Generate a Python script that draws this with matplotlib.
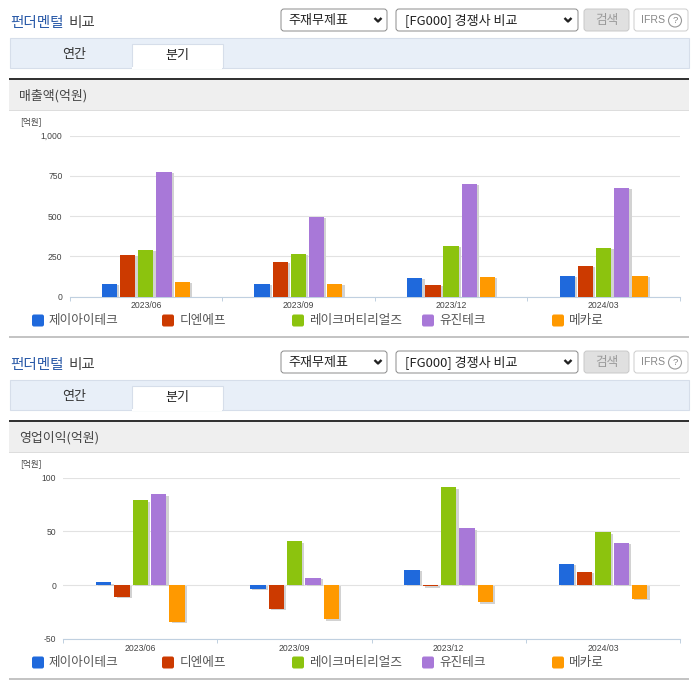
import matplotlib
matplotlib.use("Agg")
import matplotlib.pyplot as plt
import matplotlib.patheffects as pe
from matplotlib.patches import Rectangle, FancyBboxPatch, Circle

plt.rcParams["font.family"] = ["Noto Sans CJK KR", "DejaVu Sans"]

# DATA
periods = ["2023/06", "2023/09", "2023/12", "2024/03"]
companies = ["제이아이테크", "디엔에프", "레이크머티리얼즈", "유진테크", "메카로"]
colors = ["#1f69dc", "#cc3a00", "#8cc30e", "#a878d8", "#ff9900"]

revenue = [
    [80, 78, 115, 127],
    [258, 216, 71, 189],
    [289, 264, 314, 301],
    [775, 496, 699, 674],
    [90, 78, 121, 127],
]
op_profit = [
    [2.5, -3.4, 14.3, 20],
    [-11, -22, -1.2, 12.4],
    [79, 40.6, 91, 49],
    [84.5, 7, 52.7, 39.5],
    [-34, -32, -16, -12.7],
]
revenue_ticks = [0, 250, 500, 750, 1000]
revenue_labels = ["0", "250", "500", "750", "1,000"]
profit_ticks = [-50, 0, 50, 100]
profit_labels = ["-50", "0", "50", "100"]

# CONFIG
W, H = 696, 684
TICK_FONT = ["Liberation Sans", "DejaVu Sans"]
GRID = "#e2e2e2"
AXIS = "#c0d0e0"
TEXT = "#444444"

fig = plt.figure(figsize=(W / 100, H / 100), dpi=100, facecolor="white")

# page furniture is drawn in pixel coordinates
bg = fig.add_axes([0, 0, 1, 1])
bg.set_xlim(0, W)
bg.set_ylim(H, 0)
bg.axis("off")


def box(x0, y0, x1, y1, face, edge, lw=0.8, radius=0):
    if radius:
        patch = FancyBboxPatch((x0 + radius, y0 + radius), x1 - x0 - 2 * radius, y1 - y0 - 2 * radius,
                               boxstyle=f"round,pad={radius},rounding_size={radius}",
                               facecolor=face, edgecolor=edge, linewidth=lw)
    else:
        patch = Rectangle((x0, y0), x1 - x0, y1 - y0, facecolor=face, edgecolor=edge, linewidth=lw)
    bg.add_patch(patch)


def label(x, y, s, size=9.1, color=TEXT, ha="left", **kw):
    bg.text(x, y, s, fontsize=size, color=color, ha=ha, va="center", **kw)


def chevron(x, y):
    bg.plot([x - 3.5, x, x + 3.5], [y - 2, y + 1.5, y - 2], color="#222222", lw=1.7, solid_capstyle="butt")


def draw_header(dy, section):
    bg.text(10, 23.5 + dy, "펀더멘털", fontsize=10.5, color="#2a5aa8", fontweight="medium", ha="left", va="center")
    bg.text(68, 23.5 + dy, "비교", fontsize=10.5, color="#444444", fontweight="medium", ha="left", va="center")

    box(281, 9 + dy, 387, 31 + dy, "white", "#8a8a8a", 0.7, 3)
    label(288, 20.5 + dy, "주재무제표", 9.4, "#222222")
    chevron(378, 20 + dy)
    box(396, 9 + dy, 578, 31 + dy, "white", "#8a8a8a", 0.7, 3)
    label(405, 20.5 + dy, "[FG000] 경쟁사 비교", 9.4, "#222222")
    chevron(568, 20 + dy)
    box(584, 9 + dy, 629, 31 + dy, "#e0e0e0", "#c8c8c8", 0.7, 3)
    label(606.5, 20.5 + dy, "검색", 9.1, "#999999", ha="center")
    box(634, 9 + dy, 688, 31 + dy, "white", "#cccccc", 0.7, 3)
    label(641, 20 + dy, "IFRS", 7.6, "#888888", family=TICK_FONT)
    bg.add_patch(Circle((675, 20.5 + dy), 6.5, facecolor="white", edgecolor="#999999", linewidth=0.8))
    label(675, 20.5 + dy, "?", 6.8, "#888888", ha="center", family=TICK_FONT)

    box(9.5, 38 + dy, 689, 67.5 + dy, "#e8eff8", "#d6deea")
    box(131.5, 43.5 + dy, 222.5, 68 + dy, "white", "#d6deea")
    bg.add_patch(Rectangle((132, 66.5 + dy), 90, 2.5, facecolor="white", edgecolor="none"))
    label(74, 54.5 + dy, "연간", 9.4, "#333333", ha="center")
    label(177, 55 + dy, "분기", 9.4, "#222222", ha="center")

    bg.add_patch(Rectangle((9, 78 + dy), 680, 2.2, facecolor="#333333", edgecolor="none"))
    bg.add_patch(Rectangle((9, 80 + dy), 680, 30, facecolor="#efefef", edgecolor="none"))
    bg.add_patch(Rectangle((9, 110 + dy), 680, 1, facecolor="#dddddd", edgecolor="none"))
    label(19, 95.5 + dy, section, 9.3, "#444444")
    label(20, 122 + dy, "[억원]", 6.2, "#444444")

    for i, (name, color) in enumerate(zip(companies, colors)):
        x = 32 + 130 * i
        box(x, 314.5 + dy, x + 12, 326.5 + dy, color, color, 0, 2)
        label(x + 17 + (1 if i == 1 else 0), 320.5 + dy, name, 9.1, "#555555")
    bg.add_patch(Rectangle((9, 335.5 + dy), 680, 2.2, facecolor="#c4c4c4", edgecolor="none"))


def draw_chart(left, top, right, bottom, series, ticks, tick_labels, pad):
    ax = fig.add_axes([left / W, 1 - bottom / H, (right - left) / W, (bottom - top) / H])
    ax.patch.set_alpha(0)
    shadow = [pe.SimplePatchShadow(offset=(1.6, -1.0), shadow_rgbFace="#d2d2d2", alpha=1), pe.Normal()]
    for i, values in enumerate(series):
        xs = [c + (i - 2) * 0.119 for c in range(len(periods))]
        bars = ax.bar(xs, values, width=0.1, color=colors[i], zorder=3)
        for b in bars:
            b.set_path_effects(shadow)

    ax.set_xlim(-0.5, len(periods) - 0.5)
    ax.set_ylim(ticks[0], ticks[-1])
    ax.set_yticks(ticks, tick_labels)
    ax.set_xticks(range(len(periods)), periods)
    ax.set_xticks([c - 0.5 for c in range(len(periods) + 1)], minor=True)
    ax.set_axisbelow(True)
    ax.grid(axis="y", color=GRID, linewidth=0.8)
    for side in ["top", "left", "right"]:
        ax.spines[side].set_visible(False)
    ax.spines["bottom"].set_color(AXIS)
    ax.spines["bottom"].set_linewidth(0.8)
    ax.tick_params(axis="y", length=0, pad=pad, labelsize=6.2, labelcolor="#444444")
    ax.tick_params(axis="x", which="major", length=0, pad=3.5, labelsize=6.2, labelcolor="#444444")
    ax.tick_params(axis="x", which="minor", length=3, width=0.7, color=AXIS)
    for t in ax.get_xticklabels() + ax.get_yticklabels():
        t.set_family(TICK_FONT)


# PANELS
draw_header(0, "매출액(억원)")
draw_chart(69.5, 135.5, 680, 296.5, revenue, revenue_ticks, revenue_labels, 5)
draw_header(342, "영업이익(억원)")
draw_chart(63.3, 477.7, 680, 638.7, op_profit, profit_ticks, profit_labels, 5)

fig.savefig("out.png", dpi=100)
plt.close(fig)
